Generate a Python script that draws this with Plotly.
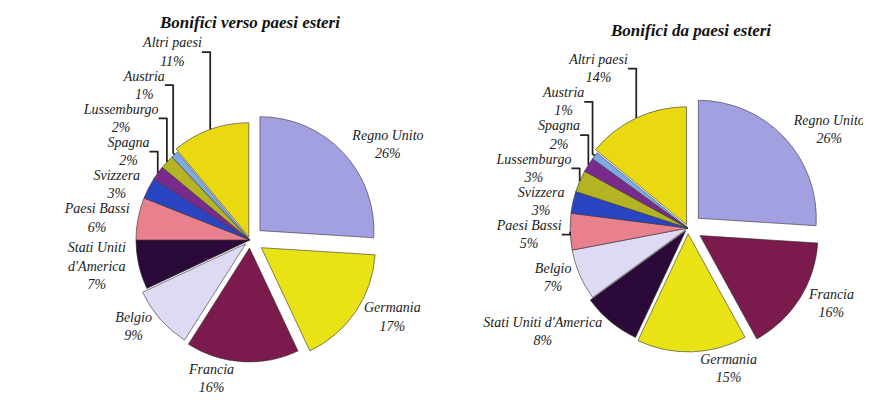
import plotly.graph_objects as go

# Data
countries_out = ["Regno Unito", "Germania", "Francia", "Belgio", "Stati Uniti<br>d'America",
                 "Paesi Bassi", "Svizzera", "Spagna", "Lussemburgo", "Austria", "Altri paesi"]
values_out = [26, 17, 16, 9, 7, 6, 3, 2, 2, 1, 11]

countries_in = ["Regno Unito", "Francia", "Germania", "Stati Uniti d'America", "Belgio",
                "Paesi Bassi", "Svizzera", "Lussemburgo", "Spagna", "Austria", "Altri paesi"]
values_in = [26, 16, 15, 8, 7, 5, 3, 3, 2, 1, 14]

title_out = "Bonifici verso paesi esteri"
title_in = "Bonifici da paesi esteri"

color_map = {
    "Regno Unito": "#a3a0e2",
    "Germania": "#e9e214",
    "Francia": "#7b1a4c",
    "Belgio": "#dedaf4",
    "Stati Uniti<br>d'America": "#2b0a3a",
    "Stati Uniti d'America": "#2b0a3a",
    "Paesi Bassi": "#e8808e",
    "Svizzera": "#2a44c2",
    "Spagna": "#7a2a8c",
    "Lussemburgo": "#b3b324",
    "Austria": "#7eaae2",
    "Altri paesi": "#ead910",
}

pull_out = [0.12, 0.12, 0.07, 0.05, 0, 0, 0, 0, 0, 0, 0.03]
pull_in = [0.12, 0.12, 0.05, 0.03, 0, 0, 0, 0, 0, 0, 0.03]

font_fam = "Liberation Serif"
label_font = dict(family=font_fam, size=14, color="#222")

# page body has an 8px margin: figure occupies 863x404 starting at (8, 8)
fig = go.Figure()
fig.add_trace(go.Pie(
    labels=countries_out, values=values_out, sort=False, direction="clockwise", rotation=0,
    pull=pull_out, automargin=False,
    marker=dict(colors=[color_map[c] for c in countries_out], line=dict(width=0.6, color="#333")),
    textposition="outside", texttemplate="<i>%{label}<br>%{value}%</i>",
    textfont=label_font, outsidetextfont=label_font,
    domain=dict(x=[0.1324, 0.4284], y=[0.1097, 0.7418]),
    showlegend=False, hoverinfo="label+value",
))
fig.add_trace(go.Pie(
    labels=countries_in, values=values_in, sort=False, direction="clockwise", rotation=0,
    pull=pull_in, automargin=False,
    marker=dict(colors=[color_map[c] for c in countries_in], line=dict(width=0.6, color="#333")),
    textposition="outside", texttemplate="<i>%{label}<br>%{value}%</i>",
    textfont=label_font, outsidetextfont=label_font,
    domain=dict(x=[0.6348, 0.9411], y=[0.1282, 0.7827]),
    showlegend=False, hoverinfo="label+value",
))

fig.update_layout(
    width=863, height=404,
    margin=dict(l=0, r=0, t=0, b=0, autoexpand=False),
    paper_bgcolor="white", plot_bgcolor="white",
    font=dict(family=font_fam),
    annotations=[
        dict(text="<b><i>" + title_out + "</i></b>", x=0.2804, y=0.9653, xref="paper", yref="paper",
             xanchor="center", yanchor="middle",
             showarrow=False, font=dict(family=font_fam, size=17, color="#111")),
        dict(text="<b><i>" + title_in + "</i></b>", x=0.7903, y=0.9455, xref="paper", yref="paper",
             xanchor="center", yanchor="middle",
             showarrow=False, font=dict(family=font_fam, size=17, color="#111")),
    ],
)

fig.write_html("out.html")
